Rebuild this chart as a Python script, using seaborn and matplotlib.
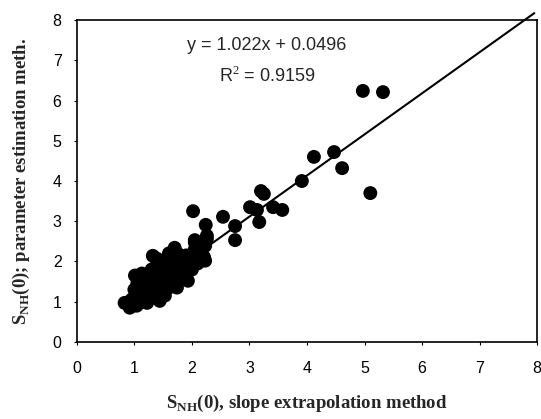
import numpy as np
import pandas as pd
import matplotlib
matplotlib.use("Agg")
import matplotlib.pyplot as plt
import seaborn as sns

# slope extrapolation (x) vs parameter estimation (y)
slope_extrap = [
    0.83, 0.92, 1.04, 1.01, 1.13, 1.32, 1.39, 1.70, 2.05, 2.23, 2.26,
    1.53, 1.93, 2.23, 1.22, 1.44, 1.74,
    1.00, 1.10, 1.15, 1.20, 1.25, 1.30, 1.35, 1.40, 1.45, 1.50, 1.55,
    1.60, 1.65, 1.70, 1.75, 1.80, 1.85, 1.90, 1.95, 2.00, 2.10, 1.20,
    1.30, 1.45, 1.55, 1.60, 1.10, 1.00, 0.95, 1.05, 1.25, 1.40, 1.35,
    1.50, 1.65, 1.80, 2.00, 2.10,
    1.15, 1.30, 1.50, 1.70, 1.90, 1.85, 1.60, 1.40, 1.05, 1.75, 2.05,
    2.02, 2.54, 2.24, 2.75, 2.75, 2.26, 2.05, 2.21,
    3.01, 3.13, 3.41, 3.57, 3.17, 3.20, 3.25,
    3.91, 4.12, 4.47, 4.61, 5.10, 4.97, 5.32,
]
param_estim = [
    0.97, 0.85, 0.90, 1.65, 1.70, 2.14, 2.07, 2.34, 2.47, 2.39, 2.64,
    1.15, 1.52, 2.02, 0.97, 1.02, 1.35,
    1.10, 1.20, 1.00, 1.30, 1.15, 1.45, 1.25, 1.60, 1.40, 1.75, 1.50,
    1.90, 1.60, 2.00, 1.75, 2.10, 1.85, 2.15, 1.95, 2.05, 2.20, 1.55,
    1.80, 1.90, 2.05, 2.20, 1.40, 1.30, 1.05, 1.20, 1.70, 2.00, 1.10,
    1.25, 1.45, 1.65, 1.80, 1.95,
    1.25, 1.60, 1.60, 1.85, 2.00, 1.60, 1.35, 1.30, 1.45, 2.20, 2.30,
    3.25, 3.11, 2.91, 2.88, 2.53, 2.56, 2.53, 2.11,
    3.35, 3.28, 3.35, 3.28, 2.98, 3.75, 3.68,
    4.00, 4.60, 4.72, 4.32, 3.70, 6.24, 6.21,
]

# linear trendline as printed on the chart
fit_slope = 1.022
fit_intercept = 0.0496
fit_r2 = 0.9159
line_x = np.array([0.85, 7.95])

df = pd.DataFrame({"x": slope_extrap, "y": param_estim})

sns.set_style("ticks")
plt.rcParams["font.family"] = ["Liberation Sans", "DejaVu Sans"]
plt.rcParams["mathtext.fontset"] = "custom"
plt.rcParams["mathtext.rm"] = "Liberation Serif"
plt.rcParams["mathtext.bf"] = "Liberation Serif:bold"

fig = plt.figure(figsize=(5.41, 4.19), dpi=100)
ax = fig.add_axes([0.142, 0.184, 0.851, 0.768])

sns.scatterplot(data=df, x="x", y="y", color="black", s=100,
                edgecolor="none", ax=ax, zorder=3)
ax.plot(line_x, fit_slope * line_x + fit_intercept, color="black",
        lw=1.5, clip_on=False, zorder=2)

ax.set_xlim(0, 8)
ax.set_ylim(0, 8)
ax.set_xticks(range(0, 9))
ax.set_yticks(range(0, 9))
ax.tick_params(labelsize=11.5, length=2, width=0.8, colors="black")
ax.tick_params(axis="x", pad=12)
ax.tick_params(axis="y", pad=9)
for sp in ax.spines.values():
    sp.set_visible(True)
    sp.set_color("black")
    sp.set_linewidth(1.2)

ax.text(3.3, 7.38, f"y = {fit_slope}x + {fit_intercept}", ha="center",
        va="center", fontsize=13)
ax.text(3.3, 6.6, f"R$^2$ = {fit_r2}", ha="center", va="center",
        fontsize=13)

ax.set_xlabel(r"S$_{\mathbf{NH}}$(0), slope extrapolation method",
              family="Liberation Serif", fontweight="bold", fontsize=13.5,
              labelpad=12)
ax.set_ylabel(r"S$_{\mathbf{NH}}$(0); parameter estimation meth.",
              family="Liberation Serif", fontweight="bold", fontsize=13.5,
              labelpad=15)

fig.savefig("out.png", dpi=100)
